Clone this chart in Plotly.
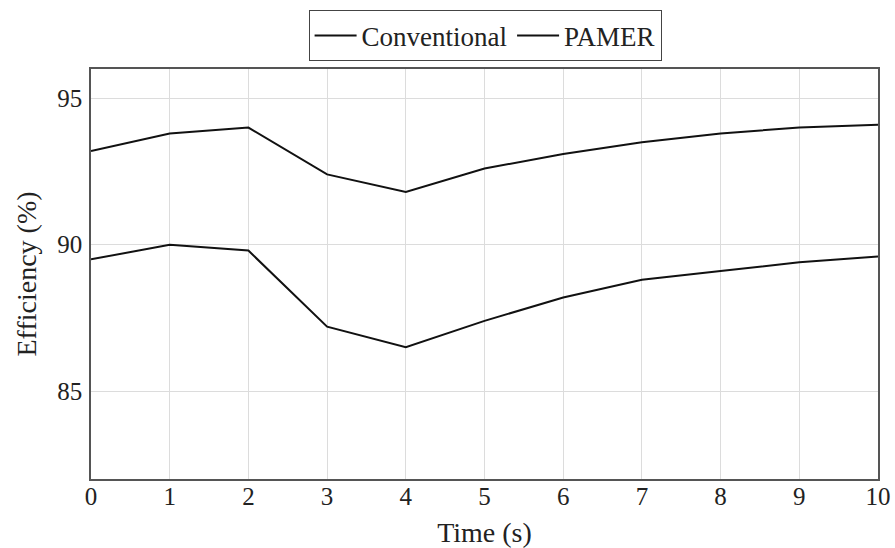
import plotly.graph_objects as go

time_s = [0, 1, 2, 3, 4, 5, 6, 7, 8, 9, 10]
conventional = [89.5, 90.0, 89.8, 87.2, 86.5, 87.4, 88.2, 88.8, 89.1, 89.4, 89.6]
pamer = [93.2, 93.8, 94.0, 92.4, 91.8, 92.6, 93.1, 93.5, 93.8, 94.0, 94.1]
x_ticks = [0, 1, 2, 3, 4, 5, 6, 7, 8, 9, 10]
y_ticks = [85, 90, 95]

FONT = "Liberation Serif"

fig = go.Figure()
fig.add_trace(go.Scatter(x=time_s, y=conventional, mode="lines", name="Conventional",
                         line=dict(color="#111111", width=2)))
fig.add_trace(go.Scatter(x=time_s, y=pamer, mode="lines", name="PAMER",
                         line=dict(color="#111111", width=2)))

axis_common = dict(showline=True, linecolor="#555555", linewidth=1.5, mirror=True,
                   showgrid=True, gridcolor="#dcdcdc", gridwidth=1, automargin=False,
                   zeroline=False, ticks="", tickfont=dict(family=FONT, size=25, color="#222222"))

fig.update_layout(
    width=895, height=548,
    margin=dict(l=91, r=17, t=69, b=69),
    paper_bgcolor="white", plot_bgcolor="white",
    font=dict(family=FONT, size=26, color="#222222"),
    showlegend=True,
    legend=dict(orientation="h", x=0.542, xanchor="center", y=0.981, yanchor="top",
                yref="container", xref="container", bordercolor="#444444", borderwidth=1,
                font=dict(family=FONT, size=27, color="#222222"),
                itemwidth=42, tracegroupgap=0),
)
fig.update_xaxes(range=[0, 10], tickvals=x_ticks, ticktext=[str(v) for v in x_ticks],
                 ticklabelstandoff=-6,
                 title=dict(text="Time (s)", font=dict(family=FONT, size=28), standoff=18),
                 **axis_common)
fig.update_yaxes(range=[82, 96], tickvals=y_ticks, ticktext=[str(v) for v in y_ticks],
                 ticklabelstandoff=2,
                 title=dict(text="Efficiency (%)", font=dict(family=FONT, size=28), standoff=12),
                 **axis_common)

fig.write_html("out.html", config={"displayModeBar": False},
               post_script="document.body.style.margin='0';document.body.style.padding='0';")
